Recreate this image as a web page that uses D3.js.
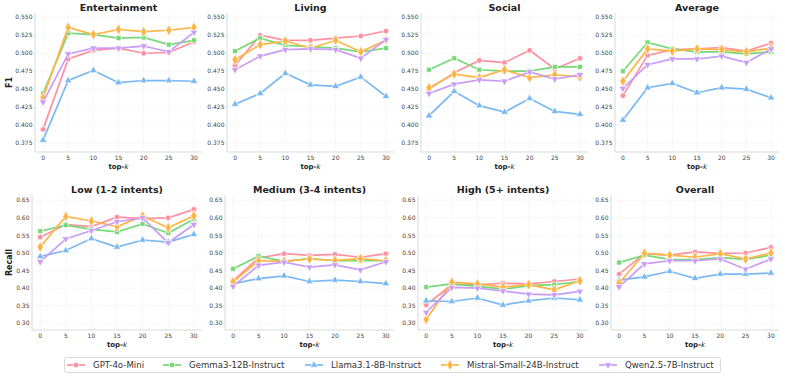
<!DOCTYPE html>
<meta charset="UTF-8">
<head>
<script src="https://cdn.jsdelivr.net/npm/d3@7"></script>
</head>
<style>
body { margin: 0; background: #fff; }
svg text { font-family: "DejaVu Sans", sans-serif; }
.tick-label { font-size: 6px; fill: #444; }
.title { font-size: 9.5px; font-weight: bold; fill: #222; }
.axis-label { font-size: 7px; font-weight: bold; fill: #222; }
.y-label { font-size: 8px; font-weight: bold; fill: #222; }
.grid line { stroke: #e6e6e6; stroke-width: 0.6px; stroke-dasharray: 1.2 1.2; }
.spine { stroke: #cfcfcf; stroke-width: 0.8px; }
.series-line { fill: none; stroke-width: 1.7px; }
.legend-text { font-size: 8.6px; fill: #333; }
</style>
<body>
<div id="chart"></div>
<script>

// x values shared by every panel
var topK = [0, 5, 10, 15, 20, 25, 30];

var models = ["GPT-4o-Mini", "Gemma3-12B-Instruct", "Llama3.1-8B-Instruct", "Mistral-Small-24B-Instruct", "Qwen2.5-7B-Instruct"];
var colors = ["#ff909f", "#77d877", "#7ab8f2", "#ffb445", "#c89cf7"];
var symbols = [d3.symbolCircle, d3.symbolSquare, d3.symbolTriangle, d3.symbolDiamond, "tri-down"];

// F1 panels (top row)
var f1Titles = ["Entertainment", "Living", "Social", "Average"];
var f1Ticks = [0.375, 0.400, 0.425, 0.450, 0.475, 0.500, 0.525, 0.550];

var entertainment = [
  [0.394, 0.492, 0.504, 0.507, 0.500, 0.501, 0.516],
  [0.444, 0.528, 0.526, 0.521, 0.522, 0.512, 0.518],
  [0.379, 0.462, 0.476, 0.459, 0.462, 0.462, 0.461],
  [0.438, 0.536, 0.526, 0.533, 0.530, 0.532, 0.536],
  [0.432, 0.499, 0.507, 0.507, 0.510, 0.502, 0.529]
];
var living = [
  [0.483, 0.525, 0.518, 0.518, 0.521, 0.524, 0.531],
  [0.503, 0.521, 0.511, 0.509, 0.507, 0.502, 0.507],
  [0.429, 0.444, 0.472, 0.456, 0.454, 0.467, 0.440],
  [0.491, 0.512, 0.517, 0.507, 0.518, 0.502, 0.518],
  [0.477, 0.496, 0.505, 0.506, 0.505, 0.493, 0.519]
];
var social = [
  [0.450, 0.473, 0.490, 0.487, 0.504, 0.478, 0.493],
  [0.477, 0.493, 0.477, 0.475, 0.475, 0.481, 0.481],
  [0.413, 0.447, 0.427, 0.418, 0.437, 0.419, 0.415],
  [0.452, 0.471, 0.466, 0.477, 0.466, 0.470, 0.467],
  [0.444, 0.457, 0.463, 0.461, 0.474, 0.464, 0.470]
];
var average = [
  [0.441, 0.497, 0.505, 0.506, 0.508, 0.503, 0.514],
  [0.475, 0.515, 0.506, 0.502, 0.502, 0.499, 0.502],
  [0.407, 0.452, 0.458, 0.445, 0.452, 0.450, 0.438],
  [0.461, 0.506, 0.503, 0.506, 0.505, 0.502, 0.507],
  [0.451, 0.484, 0.492, 0.492, 0.496, 0.487, 0.506]
];

// Recall panels (bottom row)
var recallTitles = ["Low (1-2 intents)", "Medium (3-4 intents)", "High (5+ intents)", "Overall"];
var recallTicks = [0.30, 0.35, 0.40, 0.45, 0.50, 0.55, 0.60, 0.65];

var low = [
  [0.545, 0.581, 0.575, 0.602, 0.598, 0.600, 0.624],
  [0.562, 0.579, 0.567, 0.560, 0.583, 0.557, 0.596],
  [0.490, 0.507, 0.541, 0.517, 0.537, 0.531, 0.553],
  [0.517, 0.604, 0.591, 0.575, 0.605, 0.572, 0.606],
  [0.475, 0.540, 0.564, 0.589, 0.600, 0.529, 0.581]
];
var medium = [
  [0.421, 0.486, 0.498, 0.493, 0.496, 0.488, 0.498],
  [0.455, 0.491, 0.476, 0.484, 0.478, 0.478, 0.478],
  [0.413, 0.427, 0.435, 0.419, 0.423, 0.419, 0.413],
  [0.418, 0.478, 0.476, 0.483, 0.479, 0.484, 0.478],
  [0.405, 0.465, 0.474, 0.460, 0.466, 0.452, 0.475]
];
var high = [
  [0.352, 0.410, 0.410, 0.414, 0.412, 0.419, 0.426],
  [0.403, 0.412, 0.405, 0.397, 0.407, 0.410, 0.419],
  [0.364, 0.362, 0.372, 0.352, 0.364, 0.372, 0.367],
  [0.311, 0.417, 0.412, 0.403, 0.410, 0.395, 0.421],
  [0.331, 0.402, 0.400, 0.392, 0.383, 0.381, 0.391]
];
var overall = [
  [0.440, 0.498, 0.494, 0.503, 0.499, 0.500, 0.516],
  [0.473, 0.494, 0.482, 0.481, 0.487, 0.482, 0.494],
  [0.423, 0.432, 0.448, 0.428, 0.440, 0.440, 0.443],
  [0.414, 0.499, 0.494, 0.488, 0.498, 0.483, 0.500],
  [0.404, 0.469, 0.478, 0.478, 0.483, 0.454, 0.483]
];

var W = 785, H = 378;

var svg = d3.select("#chart").append("svg")
    .attr("width", W)
    .attr("height", H);

// panel layout
var topLefts = [35, 227, 421, 615],
    botLefts = [32, 225, 418, 611],
    rights = [202, 394, 588, 779];

var rows = [
  { titles: f1Titles, data: [entertainment, living, social, average], ticks: f1Ticks,
    domain: [0.3625, 0.556], top: 13, bottom: 152, lefts: topLefts, ylabel: "F1", fmt: d3.format(".3f") },
  { titles: recallTitles, data: [low, medium, high, overall], ticks: recallTicks,
    domain: [0.281, 0.665], top: 195, bottom: 330, lefts: botLefts, ylabel: "Recall", fmt: d3.format(".2f") }
];

// marker path + transform for a series (tri-down is a flipped triangle)
function markerShape(si) {
  var sym = symbols[si];
  return d3.symbol()
      .type(sym === "tri-down" ? d3.symbolTriangle : sym)
      .size(si === 3 ? 34 : 25);
}
function markerFlip(si) {
  return symbols[si] === "tri-down" ? " scale(1,-1)" : "";
}

rows.forEach(function(row, ri) {
  row.titles.forEach(function(title, pi) {
    var left = row.lefts[pi], right = rights[pi];
    var x = d3.scaleLinear().domain([-1.6, 31.6]).range([left, right]);
    var y = d3.scaleLinear().domain(row.domain).range([row.bottom, row.top]);

    var g = svg.append("g");

    // grid
    var grid = g.append("g").attr("class", "grid");
    grid.selectAll("line.h").data(row.ticks).enter().append("line")
        .attr("x1", left).attr("x2", right)
        .attr("y1", function(d) { return y(d); })
        .attr("y2", function(d) { return y(d); });
    grid.selectAll("line.v").data(topK).enter().append("line")
        .attr("y1", row.top).attr("y2", row.bottom)
        .attr("x1", function(d) { return x(d); })
        .attr("x2", function(d) { return x(d); });

    // spines
    g.append("line").attr("class", "spine")
        .attr("x1", left).attr("x2", left).attr("y1", row.top).attr("y2", row.bottom);
    g.append("line").attr("class", "spine")
        .attr("x1", left).attr("x2", right).attr("y1", row.bottom).attr("y2", row.bottom);

    // tick labels
    g.selectAll("text.yt").data(row.ticks).enter().append("text")
        .attr("class", "tick-label")
        .attr("x", left - 2.5)
        .attr("y", function(d) { return y(d); })
        .attr("dy", "0.35em")
        .attr("text-anchor", "end")
        .text(row.fmt);
    g.selectAll("text.xt").data(topK).enter().append("text")
        .attr("class", "tick-label")
        .attr("x", function(d) { return x(d); })
        .attr("y", row.bottom + 8)
        .attr("text-anchor", "middle")
        .text(function(d) { return d; });

    // title
    g.append("text").attr("class", "title")
        .attr("x", (left + right) / 2)
        .attr("y", row.top - 2.5)
        .attr("text-anchor", "middle")
        .text(title);

    // x label: top-k
    var xl = g.append("text").attr("class", "axis-label")
        .attr("x", (left + right) / 2)
        .attr("y", row.bottom + 17)
        .attr("text-anchor", "middle");
    xl.append("tspan").text("top-");
    xl.append("tspan").attr("font-style", "italic").attr("font-weight", "normal").text("k");

    if (pi === 0) {
      g.append("text").attr("class", "y-label")
          .attr("transform", "translate(12," + ((row.top + row.bottom) / 2) + ") rotate(-90)")
          .attr("text-anchor", "middle")
          .text(row.ylabel);
    }

    // series
    var line = d3.line()
        .x(function(d, i) { return x(topK[i]); })
        .y(function(d) { return y(d); });

    row.data[pi].forEach(function(vals, si) {
      g.append("path").attr("class", "series-line")
          .attr("d", line(vals))
          .attr("stroke", colors[si]);

      g.selectAll("path.m" + si).data(vals).enter().append("path")
          .attr("d", markerShape(si))
          .attr("transform", function(d, i) {
            return "translate(" + x(topK[i]) + "," + y(d) + ")" + markerFlip(si);
          })
          .attr("fill", colors[si])
          .attr("stroke", "#fff")
          .attr("stroke-width", 0.7);
    });
  });
});

// ****************** legend ***************************
var legend = svg.append("g");
legend.append("rect")
    .attr("x", 64.5).attr("y", 357.5)
    .attr("width", 656).attr("height", 15)
    .attr("rx", 2)
    .attr("fill", "#fff")
    .attr("stroke", "#cfcfcf")
    .attr("stroke-width", 0.8);

var legendX = [67, 163, 305, 441, 599];
models.forEach(function(m, si) {
  var lx = legendX[si], ly = 365;
  legend.append("line")
      .attr("x1", lx).attr("x2", lx + 18)
      .attr("y1", ly).attr("y2", ly)
      .attr("stroke", colors[si]).attr("stroke-width", 1.7);
  legend.append("path")
      .attr("d", markerShape(si))
      .attr("transform", "translate(" + (lx + 9) + "," + ly + ")" + markerFlip(si))
      .attr("fill", colors[si])
      .attr("stroke", "#fff")
      .attr("stroke-width", 0.7);
  legend.append("text").attr("class", "legend-text")
      .attr("x", lx + 26)
      .attr("y", ly)
      .attr("dy", "0.35em")
      .text(m);
});

</script>
</body>
